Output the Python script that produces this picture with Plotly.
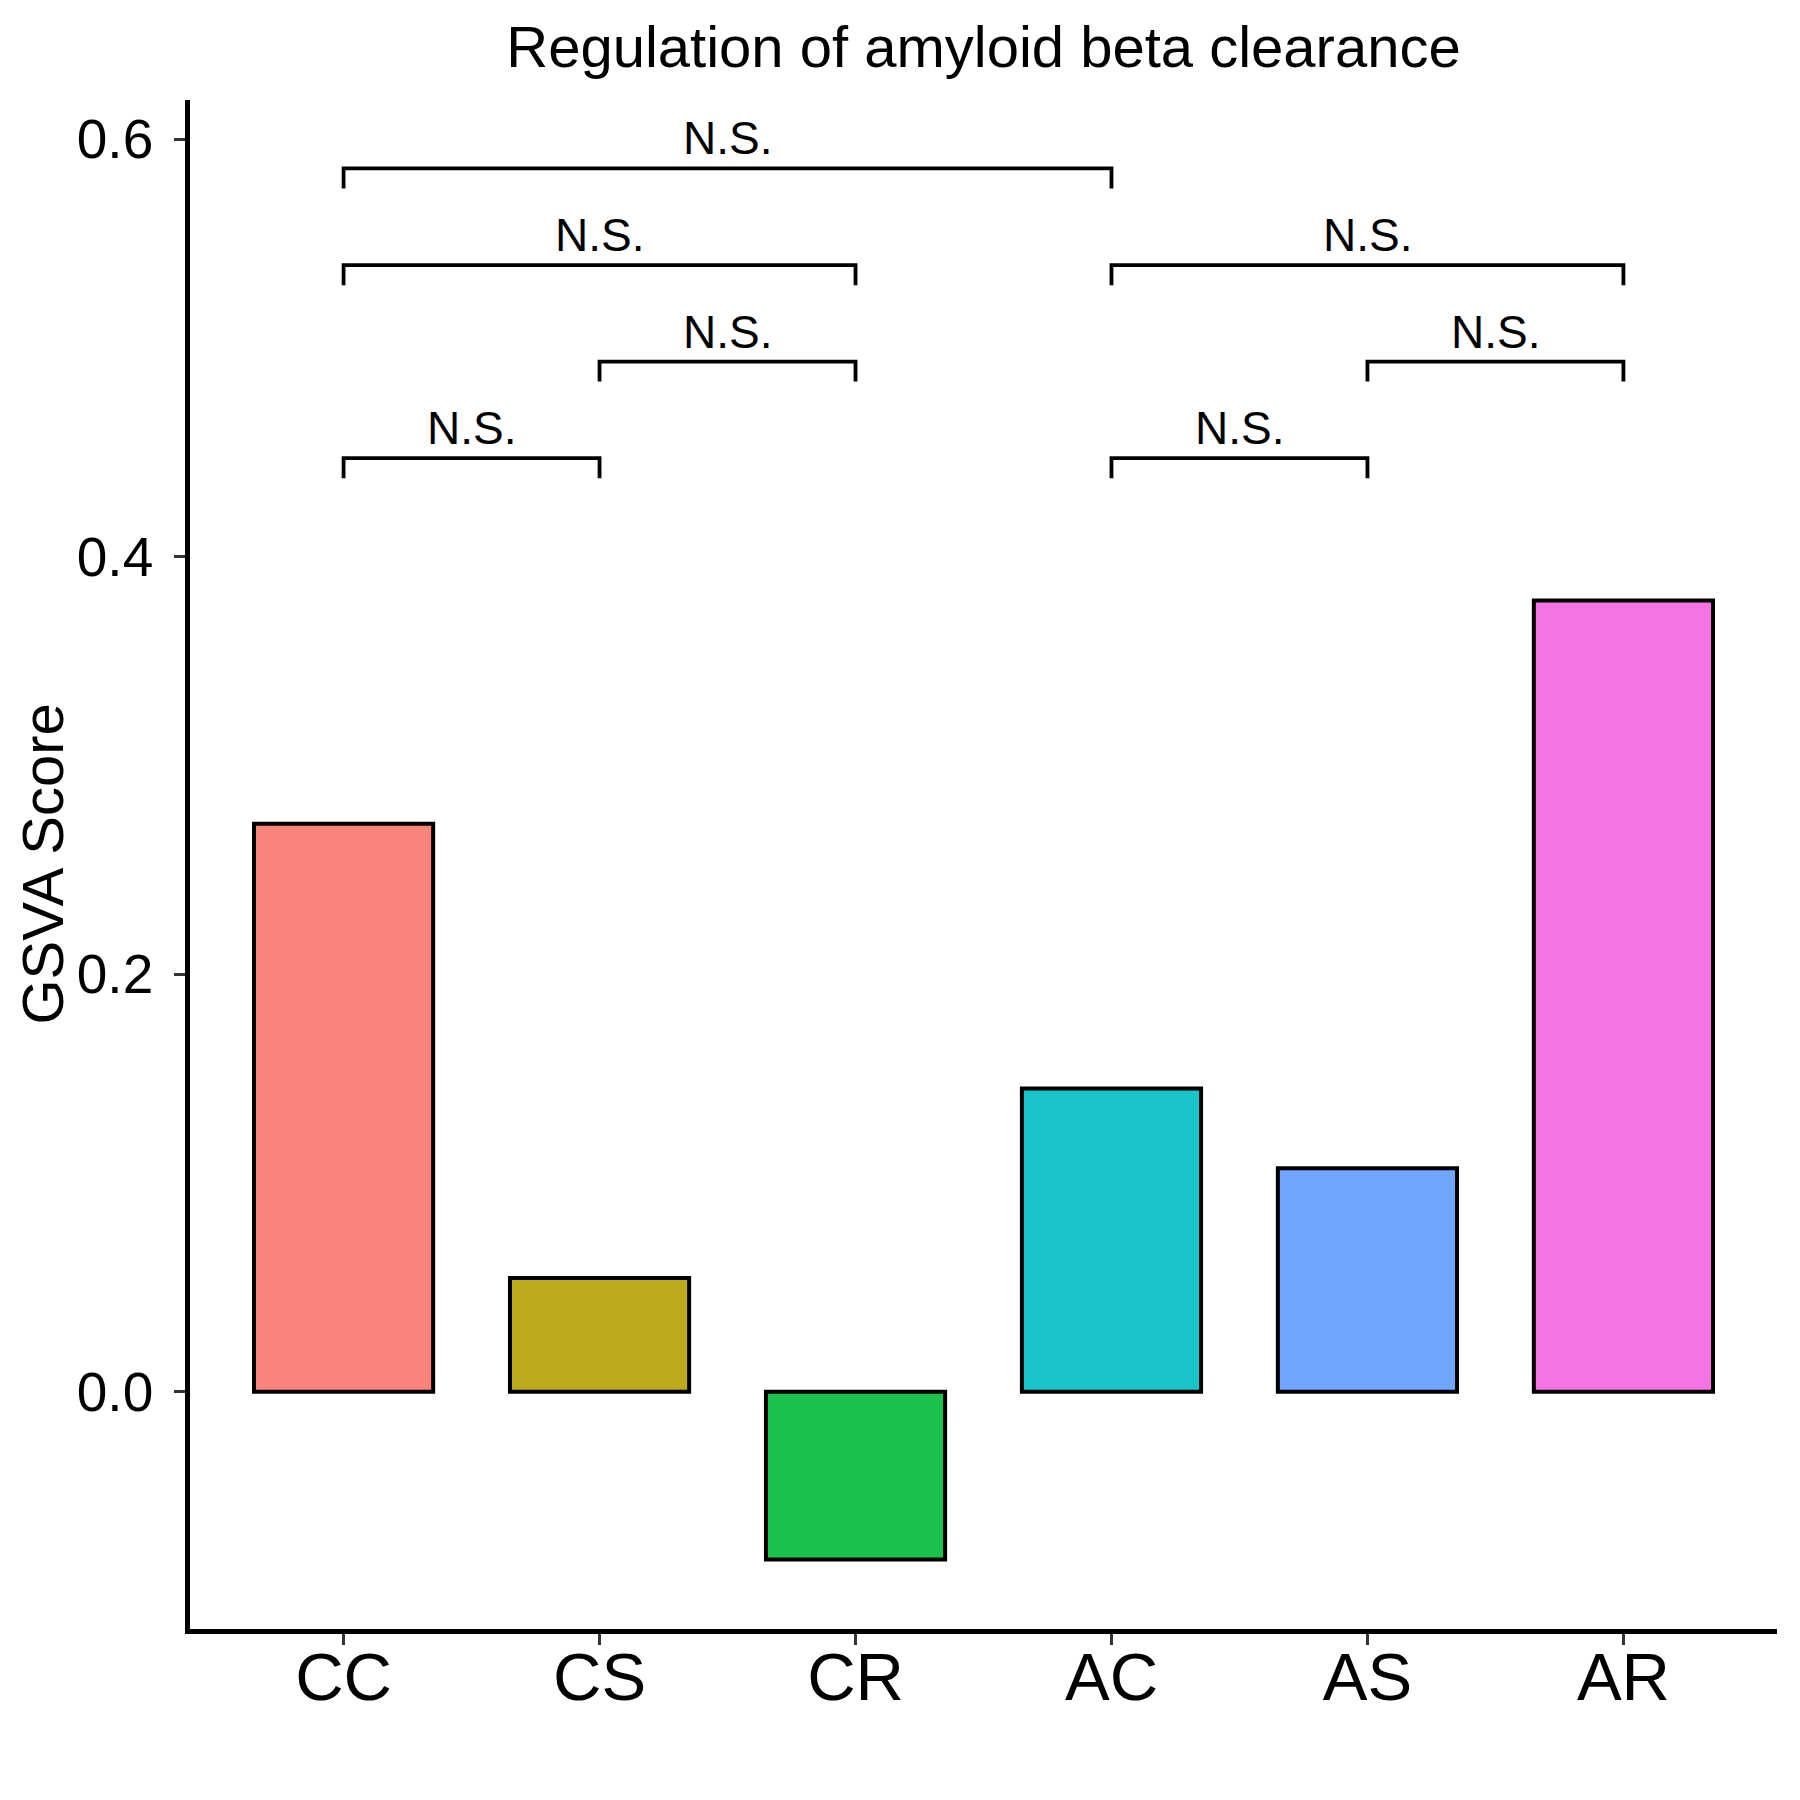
import plotly.graph_objects as go

groups = ["CC", "CS", "CR", "AC", "AS", "AR"]
scores = [0.2721, 0.0545, -0.0804, 0.1452, 0.1070, 0.3790]
fill_colors = ["#F9847C", "#BEA91A", "#1AC14C", "#1AC5CA", "#71A6FF", "#F673E6"]

# significance comparisons: (group1, group2, bracket height, label)
comparisons = [
    ("CC", "CS", 0.4472, "N.S."),
    ("CS", "CR", 0.4935, "N.S."),
    ("CC", "CR", 0.5397, "N.S."),
    ("CC", "AC", 0.5860, "N.S."),
    ("AC", "AS", 0.4472, "N.S."),
    ("AS", "AR", 0.4935, "N.S."),
    ("AC", "AR", 0.5397, "N.S."),
]
y_ticks = [0.0, 0.2, 0.4, 0.6]

FONT = "Liberation Sans, Arial, Helvetica, sans-serif"
W, H = 1792, 1792
ML, MR, MT, MB = 182, 23, 92, 171
tip = 0.0096

fig = go.Figure()
fig.add_trace(go.Bar(
    x=groups, y=scores, width=0.7,
    marker=dict(color=fill_colors, line=dict(color="black", width=4)),
    showlegend=False,
))

idx = {g: i for i, g in enumerate(groups)}
bx, by = [], []
annotations = []
for g1, g2, h, lab in comparisons:
    bx += [g1, g1, g2, g2, None]
    by += [h - tip, h, h, h - tip, None]
    annotations.append(dict(
        x=(idx[g1] + idx[g2]) / 2, y=h, xref="x", yref="y",
        text=lab, showarrow=False, yanchor="bottom", yshift=2,
        font=dict(family=FONT, size=46, color="black"),
    ))
fig.add_trace(go.Scatter(
    x=bx, y=by, mode="lines", line=dict(color="black", width=3.8),
    showlegend=False, hoverinfo="skip", connectgaps=False,
))

plot_w = W - ML - MR
annotations.append(dict(
    text="GSVA Score", textangle=-90, showarrow=False,
    xref="paper", yref="paper", x=(34 - ML) / plot_w, y=0.5,
    xanchor="center", yanchor="middle",
    font=dict(family=FONT, size=58, color="black"),
))

fig.update_layout(
    width=W, height=H,
    margin=dict(l=ML, r=MR, t=MT, b=MB),
    paper_bgcolor="white", plot_bgcolor="white",
    font=dict(family=FONT, color="black"),
    title=dict(text="Regulation of amyloid beta clearance", x=0.5, xref="paper",
               y=1 - 39 / H, yref="container", yanchor="middle", xanchor="center",
               font=dict(family=FONT, size=58, color="black")),
    annotations=annotations,
    bargap=0.3,
)
fig.update_xaxes(
    type="category", categoryorder="array", categoryarray=groups,
    range=[-0.6, 5.6], showline=True, linecolor="black", linewidth=4.5,
    ticks="outside", ticklen=11, tickwidth=3, tickcolor="#333333",
    tickfont=dict(family=FONT, size=67, color="black"),
    showgrid=False, zeroline=False, ticklabelstandoff=-25,
)
fig.update_yaxes(
    range=[-0.1137, 0.6188], tickvals=y_ticks, ticktext=[f"{v:.1f}" for v in y_ticks],
    showline=True, linecolor="black", linewidth=4.5,
    ticks="outside", ticklen=11, tickwidth=3, tickcolor="#333333",
    tickfont=dict(family=FONT, size=55, color="black"),
    showgrid=False, zeroline=False, ticklabelstandoff=10,
)

fig.write_html("out.html")
